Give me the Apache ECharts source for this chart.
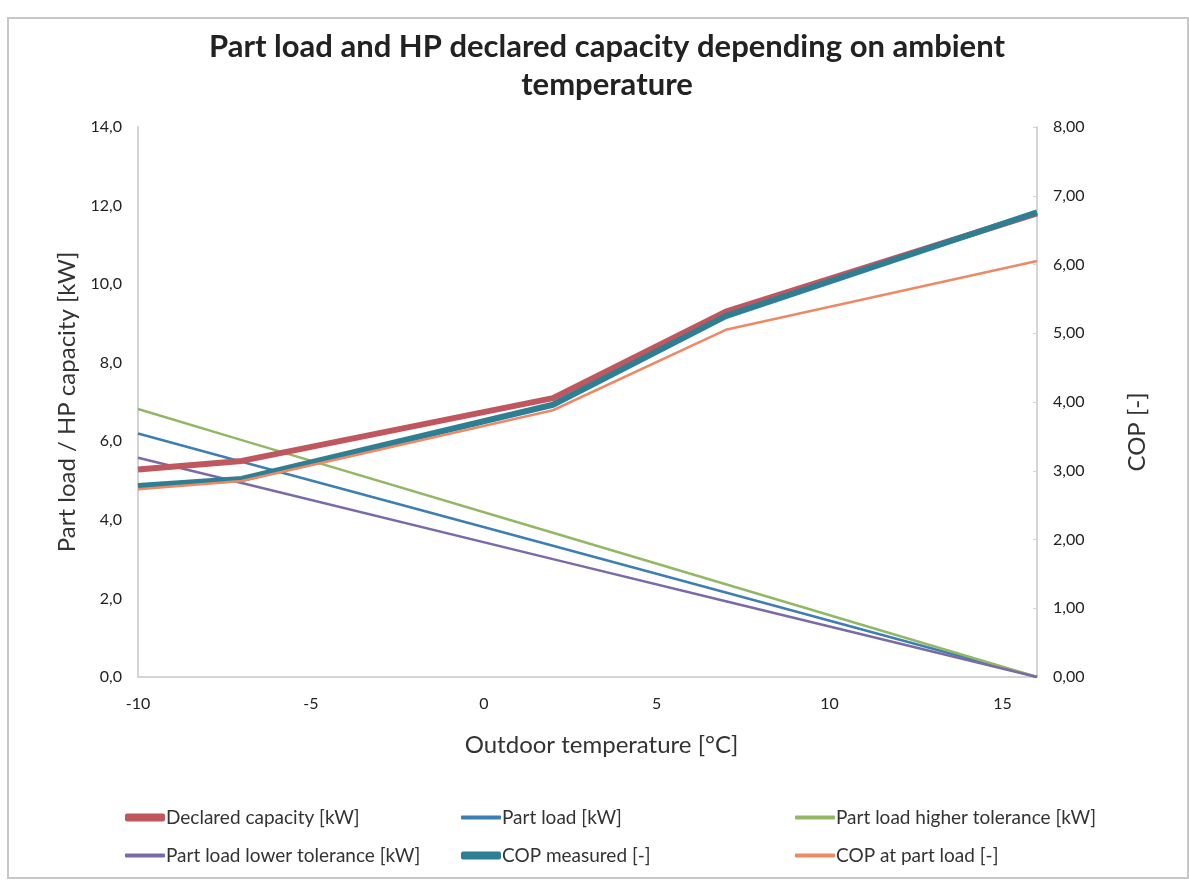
<!DOCTYPE html>
<html>
<head>
<meta charset="utf-8">
<script src="https://cdn.jsdelivr.net/npm/echarts@6/dist/echarts.min.js"></script>
<style>
html,body{margin:0;padding:0;background:#fff;}
#chart{width:1189px;height:883px;}
</style>
</head>
<body>
<div id="chart"></div>
<script>
// Outdoor temperature points [°C]
const temps = [-10, -7, 2, 7, 16];
// Left axis series [kW]
const declaredCapacity = [5.28, 5.5, 7.1, 9.3, 11.8];
const partLoad = [6.2, 5.48, 3.34, 2.15, 0];
const partLoadHigh = [6.82, 6.03, 3.67, 2.36, 0];
const partLoadLow = [5.58, 4.94, 3.0, 1.93, 0];
// Right axis series [-]
const copMeasured = [2.78, 2.88, 3.96, 5.25, 6.76];
const copPartLoad = [2.73, 2.85, 3.88, 5.05, 6.05];

const names = [
  'Declared capacity [kW]', 'Part load [kW]', 'Part load higher tolerance [kW]',
  'Part load lower tolerance [kW]', 'COP measured [-]', 'COP at part load [-]'
];
const colors = ['#c0565e', '#3d7fb4', '#93b865', '#7a6aa8', '#2f7f94', '#ec8a66'];
const widths = [6, 2.5, 2.5, 2.5, 6, 2.5];
const values = [declaredCapacity, partLoad, partLoadHigh, partLoadLow, copMeasured, copPartLoad];
const yIdx = [0, 0, 0, 0, 1, 1];

const pairs = arr => temps.map((t, i) => [t, arr[i]]);
const FONT = 'Lato, "Open Sans", sans-serif';

const series = names.map((n, i) => ({
  name: n,
  type: 'line',
  yAxisIndex: yIdx[i],
  data: pairs(values[i]),
  showSymbol: false,
  symbol: 'none',
  lineStyle: { color: colors[i], width: widths[i] },
  itemStyle: { color: colors[i] },
  z: [3, 2, 2, 2, 4, 5][i]
}));

const legendPos = [
  [125, 808], [461, 808], [795, 808],
  [125, 846], [461, 846], [795, 846]
];
const legendH = [8, 4, 4, 4, 8, 4];
const legends = names.map((n, i) => ({
  data: [n],
  left: legendPos[i][0],
  top: legendPos[i][1],
  icon: 'roundRect',
  itemWidth: 40,
  itemHeight: legendH[i],
  itemGap: 0,
  padding: 0,
  selectedMode: false,
  textStyle: { fontFamily: FONT, fontSize: 19, color: '#333', padding: [0, 0, 0, -4] }
}));

const mkAxisLine = () => ({ show: true, onZero: false, lineStyle: { color: '#d4d4d4', width: 2 } });

const chart = echarts.init(document.getElementById('chart'));
chart.setOption({
  backgroundColor: '#fff',
  animation: false,
  title: {
    text: 'Part load and HP declared capacity depending on ambient\ntemperature',
    left: 602,
    textAlign: 'center',
    top: 23,
    textStyle: { fontFamily: FONT, fontWeight: 'bold', fontSize: 31, color: '#222', lineHeight: 38 }
  },
  graphic: [{
    type: 'rect',
    shape: { x: 8, y: 18, width: 1180, height: 860 },
    style: { fill: 'none', stroke: '#c8c8c8', lineWidth: 2 },
    silent: true
  }],
  legend: legends,
  grid: { left: 138, right: 152, top: 127, bottom: 206 },
  xAxis: {
    type: 'value',
    min: -10, max: 16, interval: 5,
    name: 'Outdoor temperature [°C]',
    nameLocation: 'middle',
    nameGap: 56,
    nameTextStyle: { fontFamily: FONT, fontSize: 24, color: '#333', padding: [0, 0, 0, 28] },
    axisLine: mkAxisLine(),
    axisTick: { show: false },
    splitLine: { show: false },
    axisLabel: {
      fontFamily: FONT, fontSize: 16, color: '#222', margin: 19,
      formatter: v => (v === 16 ? '' : String(v))
    }
  },
  yAxis: [{
    type: 'value',
    min: 0, max: 14, interval: 2,
    position: 'left',
    name: 'Part load / HP capacity [kW]',
    nameLocation: 'middle',
    nameGap: 58,
    nameRotate: 90,
    nameTextStyle: { fontFamily: FONT, fontSize: 24, color: '#333' },
    axisLine: mkAxisLine(),
    axisTick: { show: false },
    splitLine: { show: false },
    axisLabel: {
      fontFamily: FONT, fontSize: 16, color: '#222', margin: 16,
      formatter: v => v.toFixed(1).replace('.', ',')
    }
  }, {
    type: 'value',
    min: 0, max: 8, interval: 1,
    position: 'right',
    name: 'COP [-]',
    nameLocation: 'middle',
    nameGap: 88,
    nameRotate: 90,
    nameTextStyle: { fontFamily: FONT, fontSize: 24, color: '#333', padding: [0, 60, 0, 0] },
    axisLine: mkAxisLine(),
    axisTick: { show: true, inside: true, length: 4, lineStyle: { color: '#d4d4d4' } },
    splitLine: { show: false },
    axisLabel: {
      fontFamily: FONT, fontSize: 16, color: '#222', margin: 16,
      formatter: v => v.toFixed(2).replace('.', ',')
    }
  }],
  series: series
});
</script>
</body>
</html>
